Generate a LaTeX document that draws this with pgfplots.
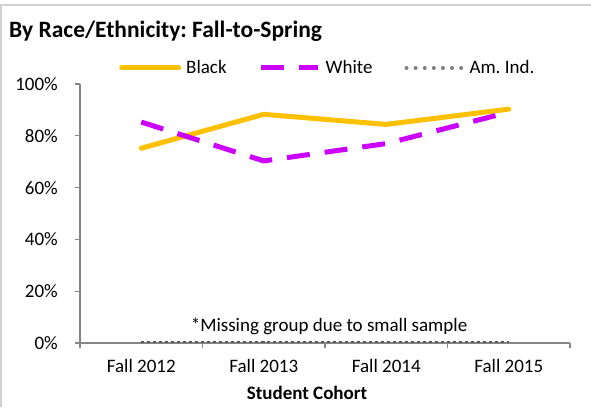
\documentclass[border=0pt]{standalone}
\usepackage{fontspec}
\setmainfont{Carlito}
\usepackage{pgfplots}
\pgfplotsset{compat=1.18}
\definecolor{gold}{HTML}{FFC000}
\definecolor{purp}{HTML}{CC00FF}
\definecolor{amind}{HTML}{595959}
\definecolor{axgray}{HTML}{868686}
\definecolor{framec}{HTML}{D0D0D0}
\begin{document}
\frenchspacing
\fontsize{19bp}{22bp}\selectfont
\begin{tikzpicture}
\begin{axis}[
  name=ax,
  scale only axis, width=490bp, height=259bp,
  xmin=-0.5, xmax=3.5, ymin=0, ymax=100,
  axis x line=bottom, axis y line=left,
  axis line style={-, axgray, line width=1.3bp},
  xtick={0,1,2,3},
  xticklabels={Fall 2012,Fall 2013,Fall 2014,Fall 2015},
  minor xtick={-0.5,0.5,1.5,2.5,3.5},
  major x tick style={draw=none},
  ytick={0,20,40,60,80,100},
  yticklabels={0\%,20\%,40\%,60\%,80\%,100\%},
  tick align=outside,
  major tick length=5bp, minor tick length=5bp,
  tick style={axgray, line width=1.3bp},
  xticklabel style={anchor=base, inner sep=0pt, yshift=-24bp},
  yticklabel style={anchor=east, inner sep=0pt, xshift=-17bp},
  clip=false,
  legend style={at={(axis description cs:0.0796,1.0618)}, anchor=west, draw=none, fill=none, inner sep=0pt,
    nodes={inner sep=0pt, anchor=west},
    /tikz/every odd column/.append style={column sep=5bp},
    /tikz/every even column/.append style={column sep=32bp}},
  legend columns=3,
  legend image code/.code={\draw[#1] (0bp,0bp) -- (57bp,0bp);},
]
\addplot[gold, line width=5bp, line cap=round] coordinates {(0,75.2) (1,88.3) (2,84.4) (3,90.3)};
\addlegendentry{Black}
\addplot[purp, line width=5bp, dash pattern=on 23bp off 15bp] coordinates {(0,85.3) (1,70.3) (2,77) (3,89.1)};
\addlegendentry{White}
\addplot[amind, line width=1.8bp, dash pattern=on 3bp off 3bp,
  legend image code/.code={\draw[gray, line width=4bp, line cap=round, dash pattern=on 0bp off 9.1bp] (1bp,0bp) -- (57bp,0bp);}] coordinates {(0,0.3) (1,0.3) (2,0.3) (3,0.3)};
\addlegendentry{Am. Ind.}
\node[inner sep=0pt] at (axis cs:1.533,6.6) {*Missing group due to small sample};
\end{axis}
\begin{scope}[x=1bp,y=1bp,shift={(ax.south west)}]
\path[use as bounding box] (-80,-64) rectangle (511,343);
\draw[framec, line width=2bp] (-79,-64) -- (-79,338) -- (511,338);
\node[anchor=base west, font=\fontsize{23.5bp}{27bp}\selectfont\bfseries, inner sep=0] at (-71,306) {By Race/Ethnicity: Fall-to-Spring};
\node[font=\bfseries, inner sep=0pt] at (227,-50) {Student Cohort};
\end{scope}
\end{tikzpicture}
\end{document}
